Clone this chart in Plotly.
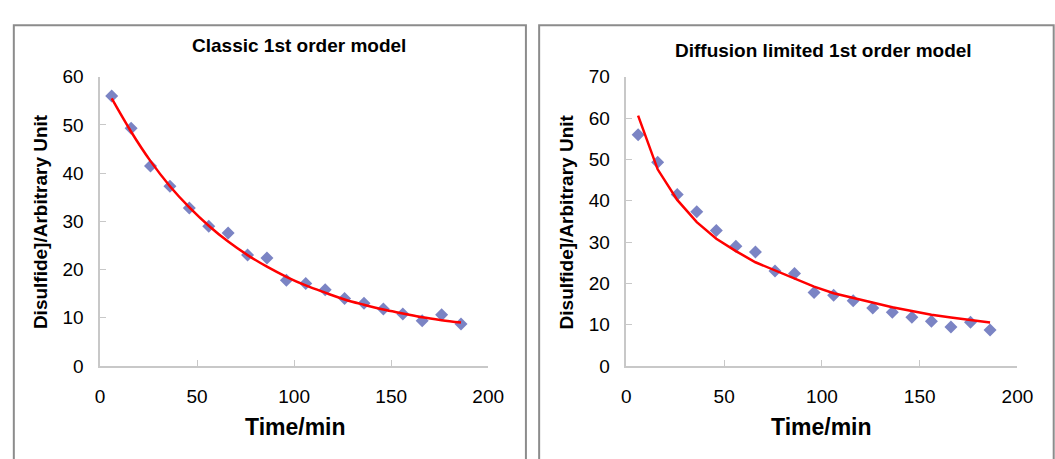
import plotly.graph_objects as go

W, H = 1055, 459

# Data
time_min = [6, 16, 26, 36, 46, 56, 66, 76, 86, 96, 106, 116, 126, 136, 146, 156, 166, 176, 186]
disulfide = [56.0, 49.3, 41.5, 37.3, 32.8, 29.0, 27.6, 23.0, 22.4, 17.8, 17.1, 15.8,
             14.0, 13.0, 11.8, 10.8, 9.4, 10.6, 8.7]
classic_fit = [55.5, 48.6, 42.5, 37.3, 32.9, 29.1, 25.8, 23.0, 20.6, 18.5, 16.7, 15.2,
               13.8, 12.7, 11.7, 10.9, 10.1, 9.5, 9.0]
diffusion_fit = [60.6, 47.6, 40.2, 34.8, 30.8, 27.8, 25.1, 23.1, 21.1, 19.2, 17.6, 16.5,
                 15.3, 14.2, 13.3, 12.4, 11.7, 11.1, 10.5]
titles = ["Classic 1st order model", "Diffusion limited 1st order model"]
y_ranges = [60, 70]

MARKER = "#7b84c4"
FONT = "Liberation Sans, Arial, sans-serif"

fig = go.Figure()

# Left panel
fig.add_trace(go.Scatter(x=time_min, y=disulfide, mode="markers",
                         marker=dict(symbol="diamond", size=10, color=MARKER),
                         xaxis="x", yaxis="y", showlegend=False))
fig.add_trace(go.Scatter(x=time_min, y=classic_fit, mode="lines",
                         line=dict(color="#ff0000", width=2.5, shape="spline"),
                         xaxis="x", yaxis="y", showlegend=False))
# Right panel
fig.add_trace(go.Scatter(x=time_min, y=disulfide, mode="markers",
                         marker=dict(symbol="diamond", size=10, color=MARKER),
                         xaxis="x2", yaxis="y2", showlegend=False))
fig.add_trace(go.Scatter(x=time_min, y=diffusion_fit, mode="lines",
                         line=dict(color="#ff0000", width=2.5),
                         xaxis="x2", yaxis="y2", showlegend=False))

axis_common = dict(showgrid=False, zeroline=False, showline=True, linecolor="#c8c8c8",
                   linewidth=1.5, ticks="inside", ticklen=6, tickcolor="#c8c8c8",
                   tickfont=dict(family=FONT, size=19, color="#000"))

ybot = 1 - 373 / H
ytop = 1 - 70 / H

fig.update_layout(
    width=W, height=H,
    margin=dict(l=0, r=0, t=0, b=0),
    paper_bgcolor="white", plot_bgcolor="white",
    xaxis=dict(domain=[97 / W, 493 / W], range=[0, 200], dtick=50, anchor="y",
               ticklabelstandoff=13, **axis_common),
    yaxis=dict(domain=[ybot, ytop], range=[0, y_ranges[0]], dtick=10, anchor="x",
               ticklabelstandoff=11, **axis_common),
    xaxis2=dict(domain=[634 / W, 1033 / W], range=[0, 200], dtick=50, anchor="y2",
                ticklabelstandoff=13, **axis_common),
    yaxis2=dict(domain=[ybot, ytop], range=[0, y_ranges[1]], dtick=10, anchor="x2",
                ticklabelstandoff=11, **axis_common),
)

# Panel borders
for x0, x1 in [(9, 531.5), (545, 1070)]:
    fig.add_shape(type="rect", xref="paper", yref="paper",
                  x0=x0 / W, x1=x1 / W, y0=-0.2, y1=1 - 16 / H,
                  line=dict(color="#8c8c8c", width=2), fillcolor="rgba(0,0,0,0)", layer="below")

# Titles and axis titles as annotations
annots = [
    (300, 37, titles[0], 19, 0),
    (835, 42, titles[1], 19, 0),
    (296, 437, "Time/min", 23, 0),
    (833, 437, "Time/min", 23, 0),
    (37, 222, "Disulfide]/Arbitrary Unit", 19, -90),
    (573, 222, "Disulfide]/Arbitrary Unit", 19, -90),
]
for x, y, text, size, ang in annots:
    fig.add_annotation(x=x / W, y=1 - y / H, xref="paper", yref="paper", text="<b>%s</b>" % text,
                       showarrow=False, textangle=ang, xanchor="center", yanchor="middle",
                       font=dict(family=FONT, size=size, color="#000"))

fig.write_html("out.html")
